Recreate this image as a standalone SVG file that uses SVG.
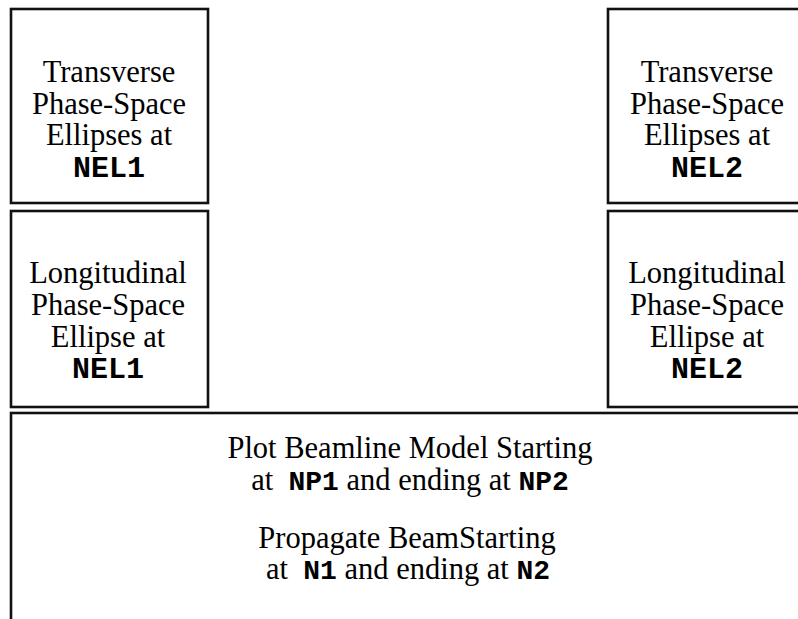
<svg xmlns="http://www.w3.org/2000/svg" width="798" height="619" viewBox="0 0 798 619">
<style>
.box{fill:#fff;stroke:#111;stroke-width:2.6}
.t{font-family:"Liberation Serif","Times New Roman",serif;font-size:30.5px;fill:#000;text-anchor:middle}
.m{font-family:"Liberation Mono","Courier New",monospace;font-weight:bold;font-size:30px}
.m2{font-family:"Liberation Mono","Courier New",monospace;font-weight:bold;font-size:28px}
</style>
<rect width="798" height="619" fill="#fff"/>
<g id="connectors"/>
<g id="transverse1">
<rect class="box" x="11" y="9" width="197" height="194"/>
<text class="t" x="109" y="82">Transverse</text>
<text class="t" x="109" y="114">Phase-Space</text>
<text class="t" x="109" y="145">Ellipses at</text>
<text class="t m" x="109" y="177">NEL1</text>
</g>
<g id="longitudinal1">
<rect class="box" x="11" y="211" width="197" height="196"/>
<text class="t" x="108" y="283">Longitudinal</text>
<text class="t" x="108" y="315">Phase-Space</text>
<text class="t" x="108" y="347">Ellipse at</text>
<text class="t m" x="108" y="378">NEL1</text>
</g>
<g id="transverse2">
<rect class="box" x="608" y="9" width="198" height="194"/>
<text class="t" x="707" y="82">Transverse</text>
<text class="t" x="707" y="114">Phase-Space</text>
<text class="t" x="707" y="145">Ellipses at</text>
<text class="t m" x="707" y="177">NEL2</text>
</g>
<g id="longitudinal2">
<rect class="box" x="608" y="211" width="198" height="196"/>
<text class="t" x="707" y="283">Longitudinal</text>
<text class="t" x="707" y="315">Phase-Space</text>
<text class="t" x="707" y="347">Ellipse at</text>
<text class="t m" x="707" y="378">NEL2</text>
</g>
<g id="plot">
<rect class="box" x="11" y="413" width="810" height="230"/>
<text class="t" x="410" y="458">Plot Beamline Model Starting</text>
<text class="t" x="410" y="490" xml:space="preserve">at  <tspan class="m2">NP1</tspan> and ending at <tspan class="m2">NP2</tspan></text>
<text class="t" x="407" y="548">Propagate BeamStarting</text>
<text class="t" x="408" y="579" xml:space="preserve">at  <tspan class="m2">N1</tspan> and ending at <tspan class="m2">N2</tspan></text>
</g>
</svg>
